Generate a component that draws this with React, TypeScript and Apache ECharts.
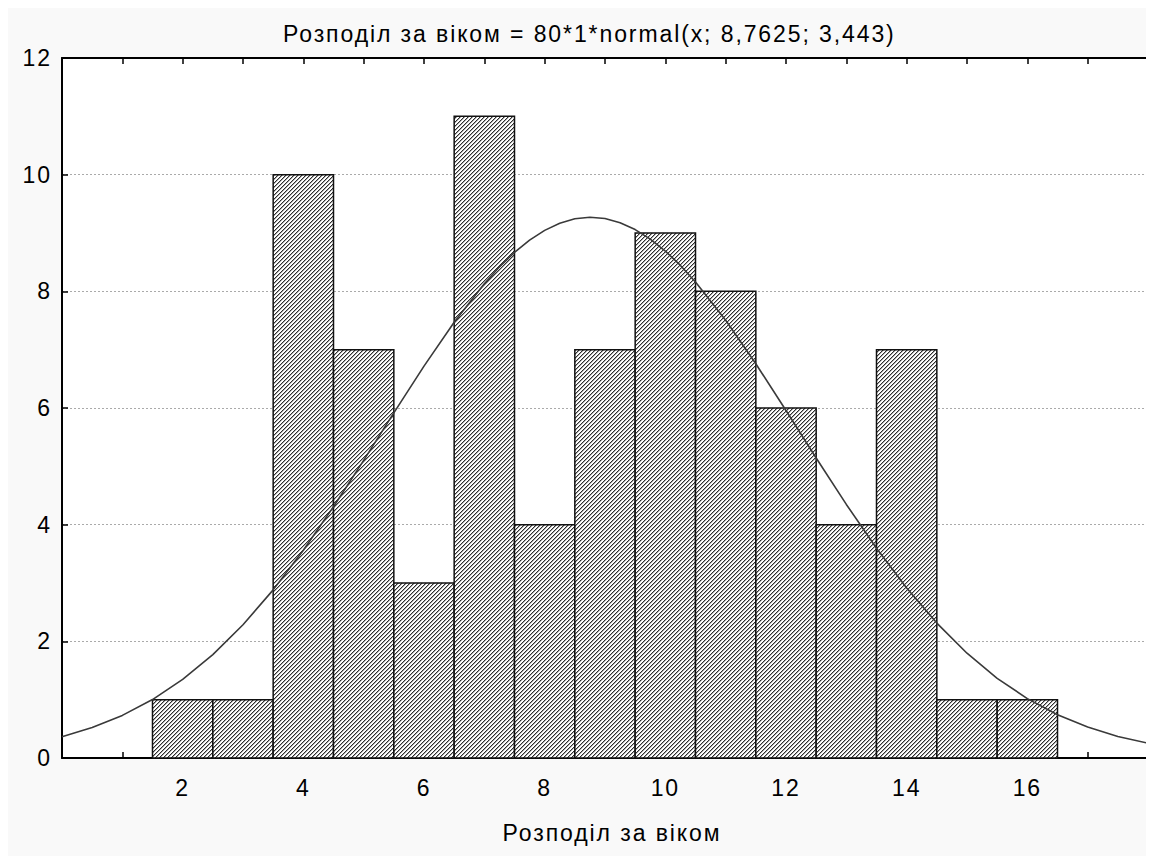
import React, { useEffect, useRef } from "react";
import * as echarts from "echarts";

const titleText = "Розподіл за віком = 80*1*normal(x; 8,7625; 3,443)";
const xAxisName = "Розподіл за віком";

// histogram bins (centres) and counts
const binCenters = [2, 3, 4, 5, 6, 7, 8, 9, 10, 11, 12, 13, 14, 15, 16];
const binCounts = [1, 1, 10, 7, 3, 11, 4, 7, 9, 8, 6, 4, 7, 1, 1];

// fitted curve
const curveX = [0, 0.5, 1, 1.5, 2, 2.5, 3, 3.5, 4, 4.5, 5, 5.5, 6, 6.5, 7, 7.25, 7.5, 7.75, 8, 8.25, 8.5, 8.75, 9, 9.25, 9.5, 9.75, 10, 10.25, 10.5, 11, 11.5, 12, 12.5, 13, 13.5, 14, 14.5, 15, 15.5, 16, 16.5, 17, 17.5, 18];
const curveY = [0.364, 0.521, 0.73, 1.002, 1.347, 1.773, 2.285, 2.882, 3.561, 4.308, 5.102, 5.917, 6.718, 7.469, 8.131, 8.417, 8.667, 8.877, 9.045, 9.167, 9.243, 9.27, 9.248, 9.177, 9.059, 8.896, 8.69, 8.444, 8.161, 7.505, 6.758, 5.958, 5.143, 4.347, 3.597, 2.915, 2.313, 1.796, 1.366, 1.018, 0.742, 0.53, 0.37, 0.254];

const xMin = 0;
const xMax = 18;
const yMin = 0;
const yMax = 12;
const yStep = 2;

function makeHatch(): HTMLCanvasElement {
  const c = document.createElement("canvas");
  c.width = 8;
  c.height = 8;
  const ctx = c.getContext("2d")!;
  const img = ctx.createImageData(8, 8);
  for (let j = 0; j < 8; j++) {
    for (let i = 0; i < 8; i++) {
      const k = (i + j) % 4;
      const v = k === 0 ? 45 : k === 1 ? 170 : 255;
      const idx = (j * 8 + i) * 4;
      img.data[idx] = v;
      img.data[idx + 1] = v;
      img.data[idx + 2] = v;
      img.data[idx + 3] = 255;
    }
  }
  ctx.putImageData(img, 0, 0);
  return c;
}

export default function App() {
  const ref = useRef<HTMLDivElement>(null);
  useEffect(() => {
    document.documentElement.style.overflow = "hidden";
    document.body.style.overflow = "hidden";
    if (!ref.current) return;
    const chart = echarts.init(ref.current, undefined, { renderer: "svg" });
    const hatch = makeHatch();
    const font = "'Liberation Sans', Arial, sans-serif";
    const fs = 23;
    const barData = binCenters.map((c, i) => [c, binCounts[i]]);
    const curveData = curveX.map((x, i) => [x, curveY[i]]);
    chart.setOption({
      animation: false,
      backgroundColor: "#f9f9f9",
      title: {
        text: titleText,
        left: 270,
        top: 9,
        textStyle: { fontFamily: font, fontSize: fs, fontWeight: "normal", color: "#000" },
      },
      grid: { left: 54, top: 50, right: 6, bottom: 98, backgroundColor: "#fff", show: true, borderWidth: 0 },
      xAxis: [
        {
          type: "value",
          min: xMin,
          max: xMax,
          interval: 1,
          position: "bottom",
          name: xAxisName,
          nameLocation: "middle",
          nameGap: 63,
          nameTextStyle: { fontFamily: font, fontSize: fs, color: "#000", padding: [0, 0, 0, 14] },
          axisLine: { show: true, onZero: false, lineStyle: { color: "#000", width: 2 } },
          axisTick: { show: true, inside: true, length: 6, lineStyle: { color: "#000", width: 1.5 } },
          axisLabel: {
            margin: 18,
            fontFamily: font,
            fontSize: fs,
            color: "#000",
            showMinLabel: false,
            showMaxLabel: false,
            formatter: (v: number) => (v % 2 === 0 && v > xMin && v < xMax ? String(v) : ""),
          },
          splitLine: { show: false },
        },
        {
          type: "value",
          min: xMin,
          max: xMax,
          interval: 1,
          position: "top",
          axisLine: { show: true, onZero: false, lineStyle: { color: "#000", width: 2 } },
          axisTick: { show: true, inside: true, length: 6, lineStyle: { color: "#000", width: 1.5 } },
          axisLabel: { show: false },
          splitLine: { show: false },
        },
      ],
      yAxis: [
        {
          type: "value",
          min: yMin,
          max: yMax,
          interval: yStep,
          position: "left",
          axisLine: { show: true, onZero: false, lineStyle: { color: "#000", width: 2 } },
          axisTick: { show: true, inside: true, length: 6, lineStyle: { color: "#000", width: 1.5 } },
          axisLabel: { margin: 10, fontFamily: font, fontSize: fs, color: "#000" },
          splitLine: { show: true, lineStyle: { color: "#aaa", type: [2, 2], width: 1 } },
        },
        {
          type: "value",
          min: yMin,
          max: yMax,
          interval: yStep,
          position: "right",
          axisLine: { show: true, onZero: false, lineStyle: { color: "#000", width: 2 } },
          axisTick: { show: false },
          axisLabel: { show: false },
          splitLine: { show: false },
        },
      ],
      series: [
        {
          type: "custom",
          xAxisIndex: 0,
          yAxisIndex: 0,
          data: barData,
          z: 2,
          renderItem: (params: any, api: any) => {
            const x = api.value(0);
            const y = api.value(1);
            const p0 = api.coord([x - 0.5, y]);
            const p1 = api.coord([x + 0.5, 0]);
            return {
              type: "rect",
              shape: { x: p0[0], y: p0[1], width: p1[0] - p0[0], height: p1[1] - p0[1] },
              style: {
                fill: { image: hatch, repeat: "repeat" },
                stroke: "#111",
                lineWidth: 1.5,
              },
            };
          },
        },
        {
          type: "line",
          xAxisIndex: 0,
          yAxisIndex: 0,
          data: curveData,
          smooth: false,
          showSymbol: false,
          clip: true,
          z: 3,
          lineStyle: { color: "#3a3a3a", width: 1.6, join: "round" },
        },
      ],
    });
    // the reference text is set with a little extra letter spacing
    ref.current.querySelectorAll("text").forEach((t) => {
      t.setAttribute("letter-spacing", "1.9");
    });
    return () => chart.dispose();
  }, []);
  return <div ref={ref} style={{ width: 1146, height: 848 }} />;
}
